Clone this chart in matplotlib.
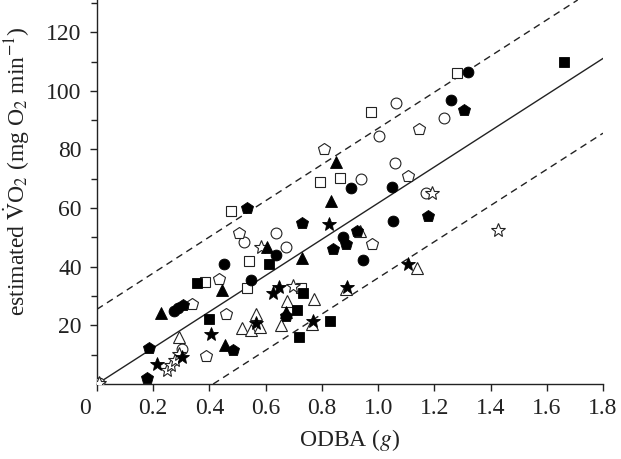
import matplotlib
matplotlib.use('Agg')
import matplotlib.pyplot as plt
from matplotlib import font_manager
from matplotlib.transforms import ScaledTranslation

# Times-like serif: try Liberation Serif, otherwise the STIX fonts shipped with matplotlib
try:
    font_manager.findfont('Liberation Serif', fallback_to_default=False)
    serif = 'Liberation Serif'
except ValueError:
    serif = 'STIXGeneral'
plt.rcParams['font.family'] = [serif, 'DejaVu Serif']
plt.rcParams['mathtext.fontset'] = 'stix'

# filled symbols
fc_x = [1.318, 1.258, 1.048, 1.052, 0.948, 0.902, 0.874, 0.451, 0.636, 0.547, 0.274, 0.288]
fc_y = [106.6, 96.9, 67.2, 55.5, 42.4, 66.9, 50.0, 41.0, 44.1, 35.5, 24.8, 25.9]
fp_x = [1.304, 1.179, 0.728, 0.838, 0.885, 0.924, 0.533, 0.185, 0.178, 0.305, 0.483, 0.671]
fp_y = [93.4, 57.2, 54.8, 46.2, 47.9, 52.1, 60.0, 12.4, 2.1, 26.9, 11.7, 23.1]
ft_x = [0.227, 0.444, 0.728, 0.604, 0.831, 0.849, 0.455, 0.671]
ft_y = [24.1, 32.1, 43.1, 46.6, 62.4, 75.9, 13.4, 24.5]
fs_x = [1.662, 0.355, 0.398, 0.611, 0.710, 0.732, 0.828, 0.718]
fs_y = [109.7, 34.5, 22.1, 41.0, 25.2, 31.0, 21.4, 15.9]
fst_x = [0.213, 0.302, 0.405, 0.625, 0.647, 0.565, 0.767, 0.888, 0.824, 1.105]
fst_y = [6.9, 9.3, 17.2, 31.0, 33.1, 20.7, 21.4, 33.1, 54.5, 41.0]

# open symbols
oc_x = [1.233, 1.062, 1.002, 1.059, 0.938, 1.169, 0.636, 0.671, 0.522, 0.302, 0.007]
oc_y = [90.7, 95.9, 84.5, 75.5, 70.0, 65.2, 51.4, 46.9, 48.3, 12.1, 0.5]
os_x = [1.279, 0.973, 0.792, 0.863, 0.476, 0.540, 0.384, 0.533, 0.725]
os_y = [106.2, 92.8, 69.0, 70.3, 59.0, 42.1, 34.8, 32.8, 32.8]
op_x = [1.147, 1.105, 0.806, 0.977, 0.433, 0.504, 0.337, 0.458, 0.387]
op_y = [86.9, 71.0, 80.0, 47.9, 35.9, 51.4, 27.2, 23.8, 9.7]
ot_x = [0.291, 0.675, 0.771, 0.515, 0.547, 0.579, 0.654, 0.764, 0.565, 1.137, 0.885, 0.934]
ot_y = [15.9, 28.3, 29.0, 19.0, 18.3, 19.3, 20.0, 20.3, 23.8, 39.7, 32.4, 52.1]
ost_x = [0.249, 0.263, 0.277, 0.291, 1.190, 1.428, 0.583, 0.696, 0.007]
ost_y = [4.8, 6.6, 8.3, 10.3, 65.2, 52.4, 46.9, 33.4, 0.3]

# regression line and prediction band
slope = 61.7
intercept = 0.0
band = 25.5

fig = plt.figure(figsize=(6.21, 4.59), dpi=100)
ax = fig.add_axes([97/621, 1 - 384/459, 506/621, 384/459])

lc = '#222222'
ax.axline((0, intercept), slope=slope, color=lc, lw=1.0, zorder=1)
ax.axline((0, intercept + band), slope=slope, color=lc, lw=1.0, ls=(0, (5, 3.5)), zorder=1)
ax.axline((0, intercept - band), slope=slope, color=lc, lw=1.0, ls=(0, (5, 3.5)), zorder=1)

open_kw = dict(ls='none', mfc='white', mec='#222222', mew=0.8, zorder=3)
fill_kw = dict(ls='none', mfc='black', mec='black', mew=0.6, zorder=4)

ax.plot(oc_x, oc_y, 'o', ms=7.8, **open_kw)
ax.plot(os_x, os_y, 's', ms=6.6, **open_kw)
ax.plot(op_x, op_y, 'p', ms=8.6, **open_kw)
ax.plot(ot_x, ot_y, '^', ms=8.2, **open_kw)
ax.plot(ost_x, ost_y, '*', ms=10.5, **open_kw)

ax.plot(fc_x, fc_y, 'o', ms=7.8, **fill_kw)
ax.plot(fs_x, fs_y, 's', ms=6.6, **fill_kw)
ax.plot(fp_x, fp_y, 'p', ms=8.6, **fill_kw)
ax.plot(ft_x, ft_y, '^', ms=8.2, **fill_kw)
ax.plot(fst_x, fst_y, '*', ms=10.5, **fill_kw)

ax.set_xlim(0, 1.8)
ax.set_ylim(0, 131)
ax.set_xticks([0, 0.2, 0.4, 0.6, 0.8, 1.0, 1.2, 1.4, 1.6, 1.8])
ax.set_xticklabels(['0', '0.2', '0.4', '0.6', '0.8', '1.0', '1.2', '1.4', '1.6', '1.8'])
ax.set_yticks([20, 40, 60, 80, 100, 120])
ax.set_yticks(range(10, 131, 20), minor=True)

for s in ['top', 'right']:
    ax.spines[s].set_visible(False)
for s in ['left', 'bottom']:
    ax.spines[s].set_linewidth(1.0)
    ax.spines[s].set_color('#222222')

ax.tick_params(axis='both', which='major', direction='out', length=5, width=1.0,
               labelsize=17, color='#222222', labelcolor='#222222')
ax.tick_params(axis='y', which='minor', direction='out', length=4, width=1.0, color='#222222')
ax.tick_params(axis='x', pad=5)
ax.tick_params(axis='y', pad=6)

# shift the origin "0" a little to the left
lab0 = ax.get_xticklabels()[0]
lab0.set_transform(lab0.get_transform() + ScaledTranslation(-9/72, 0, fig.dpi_scale_trans))

ax.set_xlabel('ODBA ($\\mathit{g}$)', fontsize=17, color='#222222', labelpad=6)
ax.set_ylabel('estimated $\\dot{\\mathrm{V}}$O$_2$ (mg O$_2$ min$^{-1}$)', fontsize=17,
              color='#222222')
ax.yaxis.set_label_coords(-0.128, 0.555)

fig.savefig('out.png', dpi=100)
